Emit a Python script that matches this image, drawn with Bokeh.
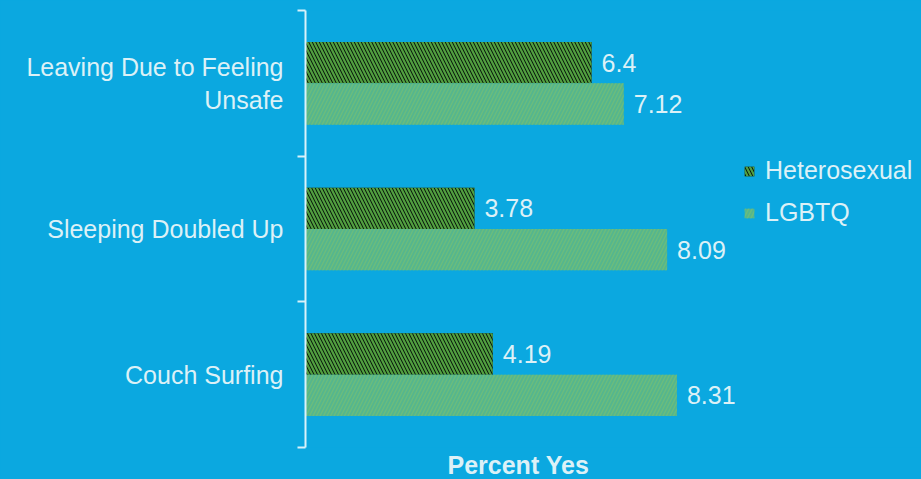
from bokeh.plotting import figure
from bokeh.models import (ColumnDataSource, Range1d, FixedTicker, Title, Legend,
                          GlobalInlineStyleSheet)
from bokeh.core.properties import value
from bokeh.embed import file_html
from bokeh.resources import INLINE
import numpy as np

# ---- data ----
categories = ["Leaving Due to Feeling\nUnsafe", "Sleeping Doubled Up", "Couch Surfing"]
series = ["Heterosexual", "LGBTQ"]
heterosexual = [6.4, 3.78, 4.19]
lgbtq = [7.12, 8.09, 8.31]
axis_title = "Percent Yes"

BG = "#0BA8E0"
TXT = "#DCF1F7"
FONT = "Liberation Sans"

W, H = 921, 479
LEFT, TOP, BOTTOM = 305, 10, 31

n = len(categories)
centers = n - np.arange(n) - 0.5   # top to bottom
bar_h = 0.284

src_h = ColumnDataSource(dict(y=centers + bar_h / 2, val=heterosexual,
                              lab=[str(v) for v in heterosexual]))
src_l = ColumnDataSource(dict(y=centers - bar_h / 2, val=lgbtq,
                              lab=[str(v) for v in lgbtq]))

px_per_unit = 44.7
frame_w = W - LEFT
p = figure(width=W, height=H, output_backend="svg", toolbar_location=None,
           x_range=Range1d(0, frame_w / px_per_unit), y_range=Range1d(0, n),
           min_border_left=LEFT, min_border_right=0, min_border_top=TOP,
           min_border_bottom=BOTTOM)
p.stylesheets = [GlobalInlineStyleSheet(css="html, body { background-color: %s; }" % BG)]
p.background_fill_color = BG
p.border_fill_color = BG
p.outline_line_color = None
p.grid.visible = False
p.xaxis.visible = False

r1 = p.hbar(y="y", left=0, right="val", height=bar_h, source=src_h,
            fill_color="#06150A", line_color=None,
            hatch_pattern="left_diagonal_line", hatch_color="#52A040",
            hatch_scale=7, hatch_weight=2.2)
r2 = p.hbar(y="y", left=0, right="val", height=bar_h, source=src_l,
            fill_color="#55B68D", line_color=None,
            hatch_pattern="right_diagonal_line", hatch_color="#6DBD7A",
            hatch_scale=7, hatch_weight=1.2)

for s in (src_h, src_l):
    p.text(x="val", y="y", text="lab", source=s, x_offset=10,
           text_baseline="middle", text_align="left",
           text_font=value(FONT), text_font_size="25px", text_color=TXT)

ya = p.yaxis[0]
ya.ticker = FixedTicker(ticks=list(centers), minor_ticks=list(np.arange(n + 1)))
ya.major_label_overrides = {float(c): lab for c, lab in zip(centers, categories)}
ya.major_tick_out = 0
ya.major_tick_in = 0
ya.minor_tick_out = 8
ya.minor_tick_in = 0
ya.minor_tick_line_color = "#D9F2FA"
ya.minor_tick_line_width = 2
ya.axis_line_color = "#D9F2FA"
ya.axis_line_width = 2
ya.major_label_standoff = 14
ya.major_label_text_font = FONT
ya.major_label_text_font_size = "25px"
ya.major_label_text_color = TXT
ya.major_label_text_align = "center"

legend = Legend(items=[(series[0], [r1]), (series[1], [r2])],
                location=(438, 220), orientation="vertical",
                background_fill_alpha=0, border_line_color=None,
                padding=0, margin=0, spacing=13,
                glyph_width=12, glyph_height=12, label_height=24,
                label_standoff=10,
                label_text_font=FONT, label_text_font_size="25px",
                label_text_color=TXT)
p.add_layout(legend)

p.add_layout(Title(text=axis_title, align="left", offset=142, standoff=2,
                   text_font=FONT, text_font_size="25px",
                   text_font_style="bold", text_color=TXT), "below")

open("out.html", "w").write(file_html(p, INLINE))
